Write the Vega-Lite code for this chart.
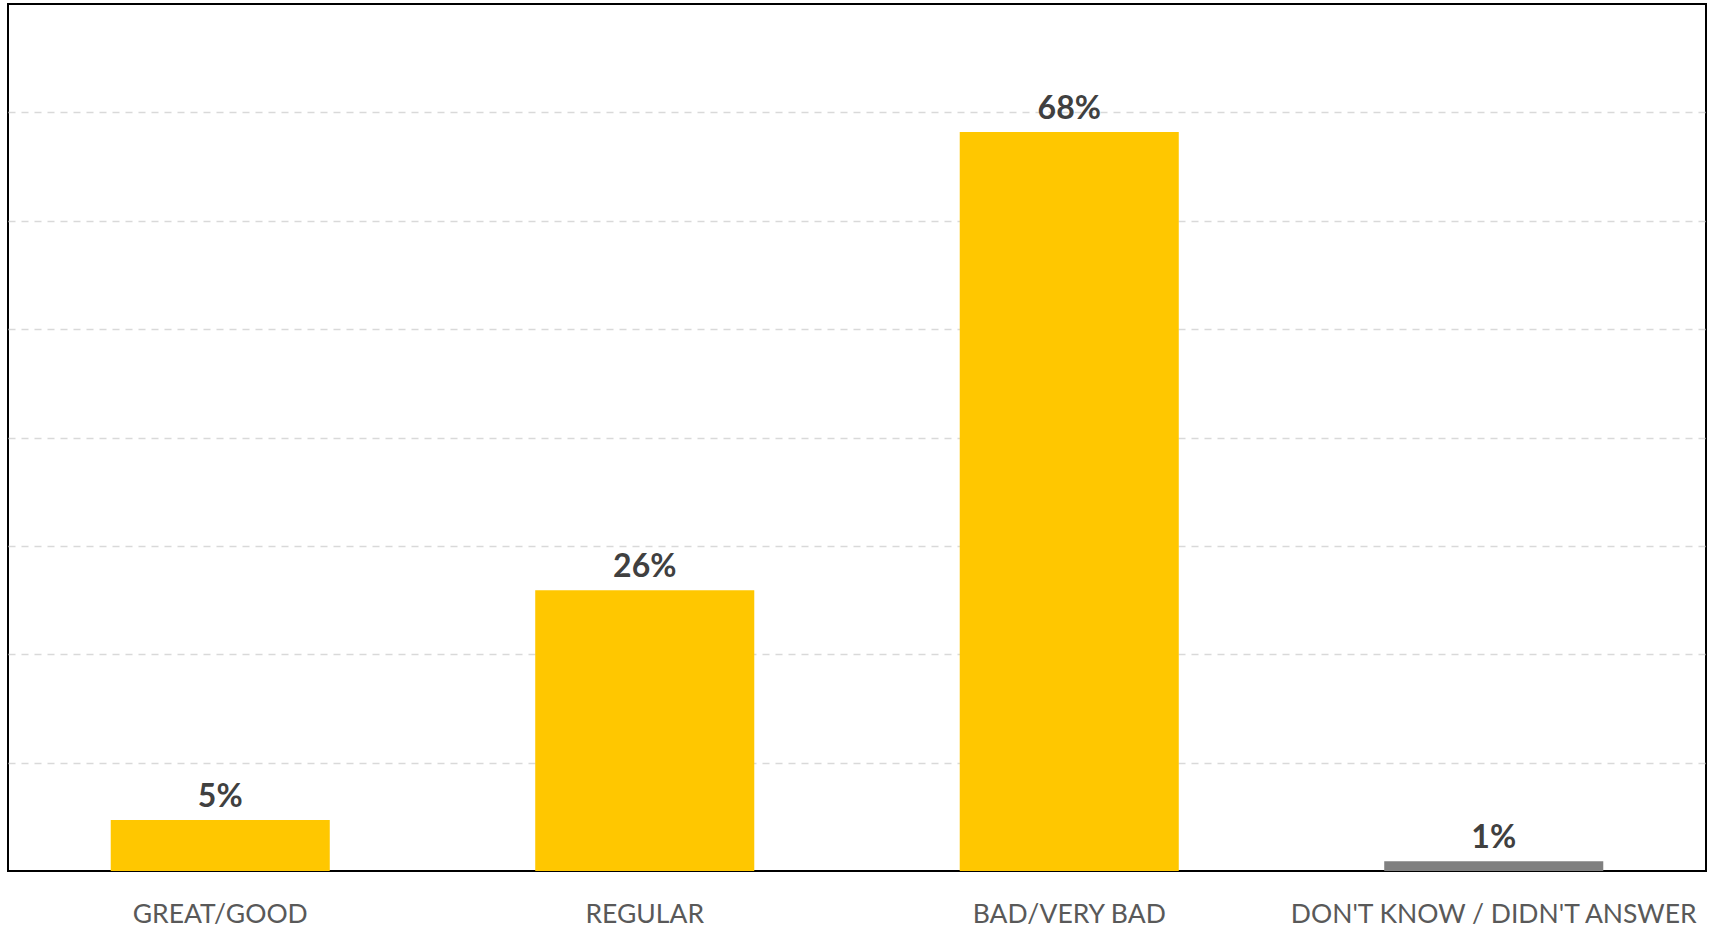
{
  "$schema": "https://vega.github.io/schema/vega-lite/v6.json",
  "width": 1698,
  "height": 867,
  "autosize": {"type": "none"},
  "padding": {"left": 8, "top": 4, "right": 5, "bottom": 58},
  "background": "white",
  "config": {
    "view": {"stroke": "#000000", "strokeWidth": 2},
    "font": "Lato"
  },
  "data": {
    "values": [
      {"category": "GREAT/GOOD", "value": 0.047, "group": "answer"},
      {"category": "REGULAR", "value": 0.259, "group": "answer"},
      {"category": "BAD/VERY BAD", "value": 0.682, "group": "answer"},
      {"category": "DON'T KNOW / DIDN'T ANSWER", "value": 0.009, "group": "none"}
    ]
  },
  "encoding": {
    "x": {
      "field": "category",
      "type": "nominal",
      "sort": null,
      "scale": {"paddingInner": 0.484, "paddingOuter": 0.242},
      "axis": {
        "title": null,
        "labelAngle": 0,
        "ticks": false,
        "domain": false,
        "labelFontSize": 26.5,
        "labelColor": "#595959",
        "labelFont": "Lato",
        "labelPadding": 30,
        "labelLimit": 0
      }
    },
    "y": {
      "field": "value",
      "type": "quantitative",
      "scale": {"domain": [0, 0.8], "nice": false},
      "axis": {
        "title": null,
        "labels": false,
        "ticks": false,
        "domain": false,
        "values": [0.1, 0.2, 0.3, 0.4, 0.5, 0.6, 0.7],
        "gridColor": "#d9d9d9",
        "gridDash": [7, 6],
        "gridWidth": 1.5
      }
    }
  },
  "layer": [
    {
      "mark": {"type": "bar"},
      "encoding": {
        "color": {
          "field": "group",
          "type": "nominal",
          "scale": {"domain": ["answer", "none"], "range": ["#FFC700", "#808080"]},
          "legend": null
        }
      }
    },
    {
      "mark": {"type": "text", "baseline": "bottom", "dy": -6, "fontSize": 32, "fontWeight": "bold", "color": "#404040", "font": "Lato"},
      "encoding": {
        "text": {"field": "value", "type": "quantitative", "format": ".0%"}
      }
    }
  ]
}
